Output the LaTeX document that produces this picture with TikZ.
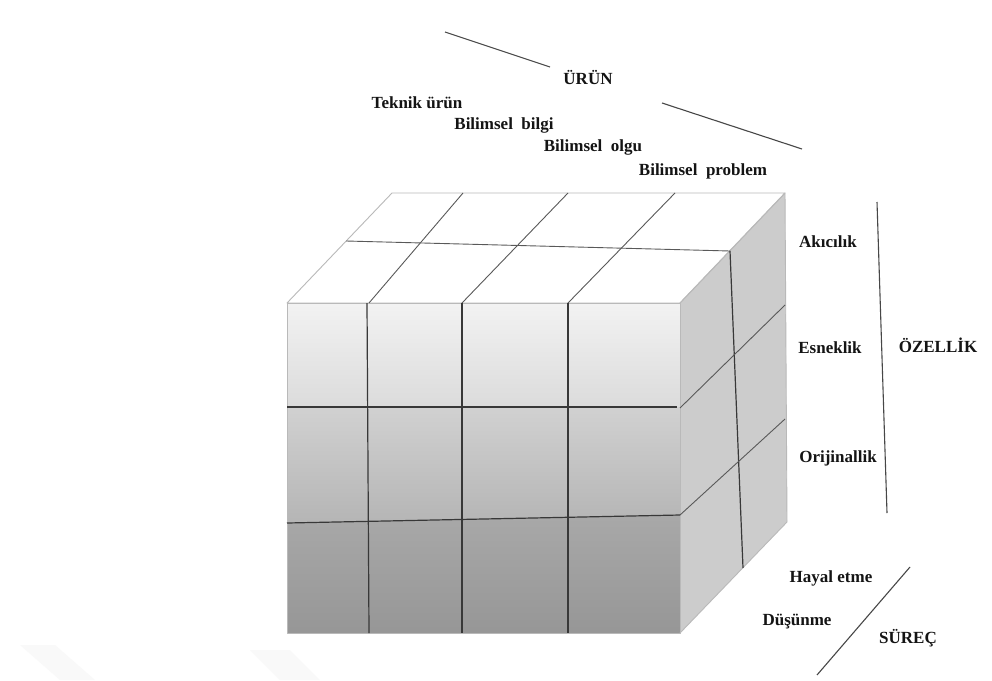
\documentclass[tikz,border=0pt]{standalone}
\usepackage{fontspec}
\setmainfont{Liberation Serif}
\begin{document}
\begin{tikzpicture}[x=1pt,y=-1pt,
  lbl/.style={font=\fontsize{17}{20}\selectfont\bfseries, text=black!92, inner sep=0pt},
  outer/.style={draw=gray!55, line width=0.9pt, line join=round},
  divline/.style={draw=black!78, line width=1.2pt},
  topdiv/.style={draw=black!65, line width=0.9pt},
  axis/.style={draw=black!72, line width=1.1pt}]
\useasboundingbox (0,0) rectangle (992,680);
\fill[white] (0,0) rectangle (992,680);
% faint watermark
\fill[gray!5] (20,645) -- (55,645) -- (95,680) -- (60,680) -- cycle;
\fill[gray!5] (250,650) -- (290,650) -- (320,680) -- (280,680) -- cycle;
% corners
\coordinate (FTL) at (287,303);
\coordinate (FTR) at (680,303);
\coordinate (FBL) at (287,633);
\coordinate (FBR) at (680,633);
\coordinate (BTL) at (392,193);
\coordinate (BTR) at (785,193);
\coordinate (BBR) at (787,522);
% top face
\fill[white] (FTL) -- (BTL) -- (BTR) -- (FTR) -- cycle;
% right face
\fill[gray!40] (FTR) -- (BTR) -- (BBR) -- (FBR) -- cycle;
% front rows with gradients
\shade[top color=black!5, bottom color=black!14] (287,303) -- (680,303) -- (680,407) -- (287,407) -- cycle;
\shade[top color=black!18, bottom color=black!29] (287,407) -- (680,407) -- (680,515) -- (287,523) -- cycle;
\shade[top color=black!34, bottom color=black!41] (287,523) -- (680,515) -- (680,633) -- (287,633) -- cycle;
% outer edges
\path[outer] (FTL) -- (BTL) -- (BTR) -- (FTR) -- cycle;
\path[outer] (FTR) -- (BTR) -- (BBR) -- (FBR);
\path[outer] (FTL) -- (FTR) -- (FBR) -- (FBL) -- cycle;
% top face dividers
\path[topdiv] (369,303) -- (463,193);
\path[topdiv] (462,303) -- (568,193);
\path[topdiv] (568,303) -- (675,193);
\path[topdiv] (346,241) -- (730,251);
% right face middle line and dividers
\path[divline] (730,251) -- (743,568);
\path[topdiv] (680,408) -- (785,305);
\path[topdiv] (680,515) -- (785,419);
% front dividers
\path[divline] (367,303) -- (369,633);
\path[divline] (462,303) -- (462,633);
\path[divline] (568,303) -- (568,633);
\path[divline] (287,407) -- (677,407);
\path[divline] (287,523) -- (680,515);
% labels
\node[lbl] (urun) at (588,78) {ÜRÜN};
\node[lbl] (teknik) at (417,103) {Teknik ürün};
\node[lbl] (bilgi) at (504,125) {Bilimsel\ \ bilgi};
\node[lbl] (olgu) at (593,147) {Bilimsel\ \ olgu};
\node[lbl] (problem) at (703,171) {Bilimsel\ \ problem};
\node[lbl] (akicilik) at (828,242) {Akıcılık};
\node[lbl] (esneklik) at (830,348) {Esneklik};
\node[lbl] (orijinallik) at (838,458) {Orijinallik};
\node[lbl] (ozellik) at (938,345) {ÖZELLİK};
\node[lbl] (hayal) at (831,578) {Hayal etme};
\node[lbl] (dusunme) at (797,622) {Düşünme};
\node[lbl] (surec) at (908,638) {SÜREÇ};
% axis lines
\coordinate (u1) at (445,32);
\coordinate (u2) at (550,67);
\coordinate (u3) at (662,103);
\coordinate (u4) at (802,149);
\coordinate (o1) at (877,202);
\coordinate (o2) at (887,513);
\coordinate (s1) at (910,567);
\coordinate (s2) at (817,675);
\path[axis] (u1) -- (u2);
\path[axis] (u3) -- (u4);
\path[axis] (o1) -- (o2);
\path[axis] (s1) -- (s2);
\end{tikzpicture}
\end{document}
